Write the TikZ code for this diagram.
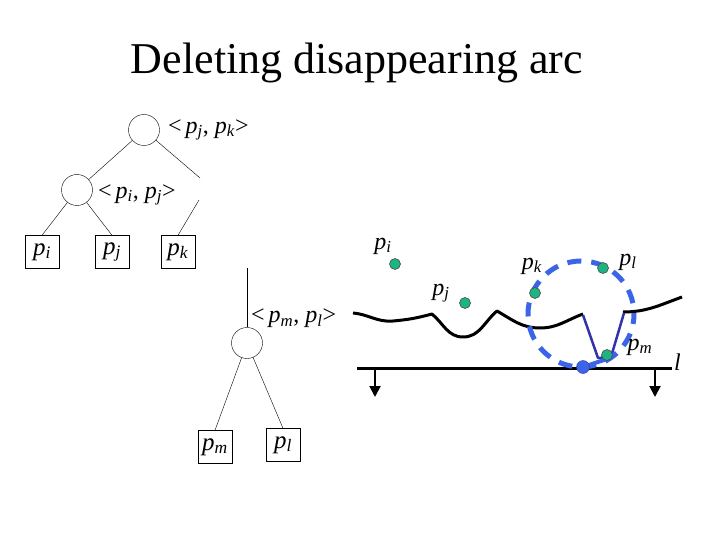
\documentclass[tikz,border=0pt]{standalone}
\usepackage{fontspec}
\setmainfont{Liberation Serif}
\usetikzlibrary{arrows.meta}

\definecolor{sitegreen}{RGB}{30,180,130}
\definecolor{circblue}{RGB}{60,100,230}
\definecolor{arcblue}{RGB}{50,50,170}
\newcommand{\ps}[1]{\textit{p}\textsubscript{\textit{#1}}}

\begin{document}
\begin{tikzpicture}[x=1pt,y=-1pt,
    inode/.style={draw,circle,minimum size=31pt,inner sep=0pt},
    leaf/.style={draw,minimum width=34pt,minimum height=33pt,inner sep=0pt,font=\fontsize{25}{27}\selectfont},
    lbl/.style={inner sep=0pt,font=\fontsize{24}{26}\selectfont},
    site/.style={circle,fill=sitegreen,draw=black!70,line width=0.6pt,minimum size=11pt,inner sep=0pt},
    beach/.style={line width=3pt,line join=round}]
  \useasboundingbox (0,0) rectangle (720,540);

  \node[font=\fontsize{44}{48}\selectfont] (title) at (357,63) {Deleting disappearing arc};

  % tree
  \node[inode] (1) at (144,130) {};
  \node[lbl,anchor=west] (1l) at (168,130) {<\,\ps{j}, \ps{k}>};
  \node[inode] (2) at (77,190) {};
  \node[lbl,anchor=west] (2l) at (98,195) {<\,\ps{i}, \ps{j}>};
  \node[leaf] (3) at (42,252) {\ps{i}};
  \node[leaf] (4) at (112,252) {\ps{j}};
  \node[leaf] (5) at (178,252) {\ps{k}};
  \coordinate (c1) at (200,178);
  \coordinate (c2) at (199,200);

  \draw (1) -- (2);
  \draw (1) -- (c1);
  \draw (c2) -- (5.north);
  \draw (2) -- (3.north);
  \draw (2) -- (4.north);

  % subtree
  \coordinate (t) at (247,268);
  \node[inode] (6) at (247,343) {};
  \node[lbl,anchor=west] (6l) at (251,318) {<\,\ps{m}, \ps{l}>};
  \node[leaf] (7) at (215,447) {\ps{m}};
  \node[leaf] (8) at (283,445) {\ps{l}};
  \draw (t) -- (6);
  \draw (6) -- (7.north);
  \draw (6) -- (8.north);

  % sweep line
  \coordinate (s1) at (357,368);
  \coordinate (s2) at (672,368);
  \coordinate (d1) at (375,368);
  \coordinate (d1e) at (375,397);
  \coordinate (d2) at (655,368);
  \coordinate (d2e) at (655,397);
  \draw[line width=3pt] (s1) -- (s2);
  \draw[line width=2pt,-{Triangle[length=11pt,width=11pt]}] (d1) -- (d1e);
  \draw[line width=2pt,-{Triangle[length=11pt,width=11pt]}] (d2) -- (d2e);
  \node[lbl,anchor=west] (l) at (674,362) {\textit{l}};

  % beach line
  \draw[beach] (353,313) to[out=-5,in=185] (393,321) to[out=5,in=195] (432,314)
     to[out=-40,in=180] (463,337) to[out=0,in=-140] (497,311)
     to[out=-30,in=180] (540,328) to[out=0,in=-160] (583,314);
  \draw[beach] (623,312) to[out=0,in=-160] (682,297);
  \draw[beach,arcblue,line width=2.5pt] (583,315) -- (598,358) -- (611,357) -- (624,313);
  \draw[line width=4pt,circblue] (583,367) -- (607,359);

  % circle event
  \draw[circblue,line width=5pt,dash pattern=on 14pt off 10pt,dash phase=4pt] (581,314) circle (53);

  % sites
  \node[site] (pi) at (395,264) {};
  \node[site] (pj) at (465,303) {};
  \node[site] (pk) at (535,293) {};
  \node[site] (pl) at (603,268) {};
  \node[site] (pm) at (607,355) {};
  \node[circle,fill=circblue,draw=arcblue,minimum size=13pt,inner sep=0pt] (v) at (583,367) {};
  \node[lbl] (pil) at (383,246) {\ps{i}};
  \node[lbl] (pjl) at (441,293) {\ps{j}};
  \node[lbl] (pkl) at (532,266) {\ps{k}};
  \node[lbl] (pll) at (628,262) {\ps{l}};
  \node[lbl] (pml) at (640,347) {\ps{m}};
\end{tikzpicture}
\end{document}
